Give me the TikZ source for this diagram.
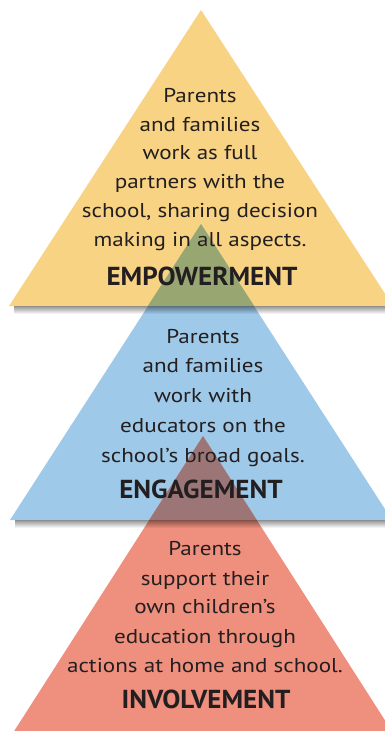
\documentclass[tikz,border=0pt]{standalone}
\usepackage{fontspec}
\setmainfont{PT Sans}
\newfontfamily\bodyfont[FakeStretch=1.155]{PT Sans}
\newfontfamily\headfont[FakeStretch=1.04]{PT Sans}
\usetikzlibrary{fadings}

\definecolor{tierYellow}{HTML}{F8D383}
\definecolor{tierBlue}{HTML}{9FC9E9}
\definecolor{tierRed}{HTML}{EF8F7D}
\definecolor{mixYB}{HTML}{98A672}
\definecolor{mixBR}{HTML}{9C7676}
\definecolor{ink}{HTML}{231F20}

\tikzset{
  body/.style={anchor=base, inner sep=0pt, text=ink, font=\bodyfont\fontsize{20}{20}\selectfont},
  heading/.style={anchor=base, inner sep=0pt, text=ink, font=\headfont\bfseries\fontsize{26}{26}\selectfont},
  baseshadow/.style={fill=black, opacity=0.42, path fading=south},
}

\begin{document}
\begin{tikzpicture}[x=1pt, y=-1pt]
  \useasboundingbox (0,0) rectangle (385,731);
  \clip (0,0) rectangle (385,731);
  \fill[white] (0,0) rectangle (385,731);

  % corners of the three tiers
  \coordinate (yTop) at (201,10);
  \coordinate (yL) at (9,306);
  \coordinate (yR) at (393,306);
  \coordinate (bTop) at (201,224);
  \coordinate (bL) at (10,520);
  \coordinate (bR) at (392,520);
  \coordinate (rTop) at (203,436);
  \coordinate (rL) at (11,736);
  \coordinate (rR) at (395,736);

  % tiers
  \fill[tierYellow] (yTop) -- (yL) -- (yR) -- cycle;
  \fill[tierBlue] (bTop) -- (bL) -- (bR) -- cycle;
  \fill[tierRed] (rTop) -- (rL) -- (rR) -- cycle;

  % where one tier shows through the one above it
  \fill[mixYB] (bTop) -- (147.8,306) -- (254.2,306) -- cycle;
  \fill[mixBR] (rTop) -- (149.2,520) -- (256.8,520) -- cycle;

  % soft shadows under the bases
  \fill[baseshadow] (14,306) rectangle (390,314);
  \fill[baseshadow] (15,520) rectangle (390,528);

  % top tier
  \node[body] (e1) at (200,102) {Parents};
  \node[body] (e2) at (200,131) {and families};
  \node[body] (e3) at (200,159) {work as full};
  \node[body] (e4) at (200,188) {partners with the};
  \node[body] (e5) at (200,217) {school, sharing decision};
  \node[body] (e6) at (200,246) {making in all aspects.};
  \node[heading] (eh) at (202,285) {EMPOWERMENT};

  % middle tier
  \node[body] (g1) at (203,343) {Parents};
  \node[body] (g2) at (203,372) {and families};
  \node[body] (g3) at (203,402) {work with};
  \node[body] (g4) at (203,432) {educators on the};
  \node[body] (g5) at (203,462) {school’s broad goals.};
  \node[heading] (gh) at (201,498) {ENGAGEMENT};

  % bottom tier
  \node[body] (i1) at (205,555) {Parents};
  \node[body] (i2) at (205,585) {support their};
  \node[body] (i3) at (205,613) {own children’s};
  \node[body] (i4) at (205,643) {education through};
  \node[body] (i5) at (205,672) {actions at home and school.};
  \node[heading] (ih) at (206,708) {INVOLVEMENT};
\end{tikzpicture}
\end{document}
